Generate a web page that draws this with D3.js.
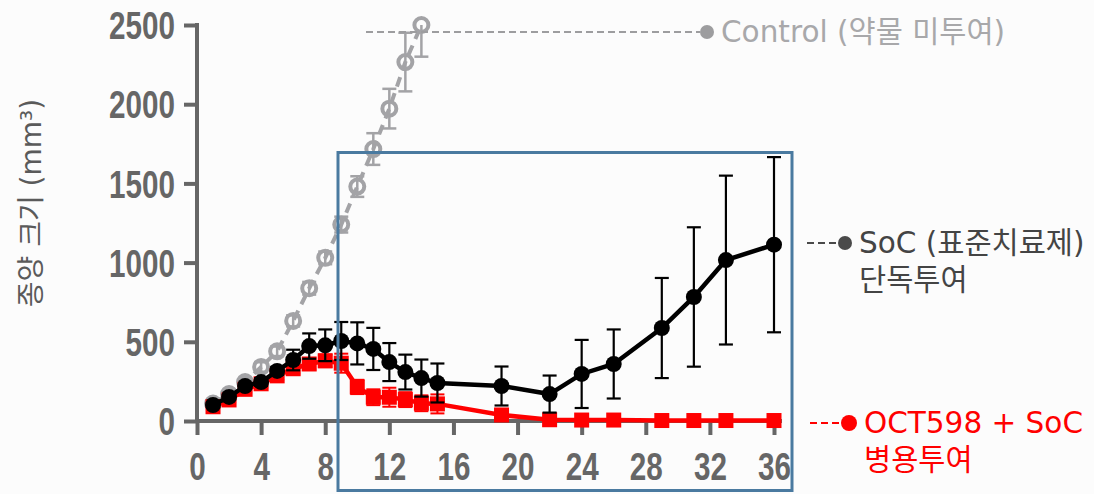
<!DOCTYPE html>
<html>
<head>
<meta charset="utf-8">
<script src="https://cdn.jsdelivr.net/npm/d3@7/dist/d3.min.js"></script>
<style>
  html, body { margin: 0; padding: 0; background: #fcfcfc; }
  svg { display: block; }
</style>
</head>
<body>
<svg id="chart" width="1094" height="494"></svg>
<script>
// Tumour volume over time (days) for three treatment groups
const xTicks = [0, 4, 8, 12, 16, 20, 24, 28, 32, 36];
const yTicks = [0, 500, 1000, 1500, 2000, 2500];

const controlDays = [1, 2, 3, 4, 5, 6, 7, 8, 9, 10, 11, 12, 13, 14];
const controlMean = [110, 170, 246, 341, 440, 632, 838, 1030, 1240, 1480, 1717, 1972, 2266, 2500];
const controlErr  = [15, 20, 25, 30, 30, 35, 40, 40, 50, 65, 100, 125, 185, 200];

const socDays = [1, 2, 3, 4, 5, 6, 7, 8, 9, 10, 11, 12, 13, 14, 15, 19, 22, 24, 26, 29, 31, 33, 36];
const socMean = [101, 152, 221, 246, 316, 385, 473, 478, 505, 490, 455, 372, 309, 271, 240, 221, 170, 297, 360, 587, 783, 1016, 1113];
const socErr  = [15, 20, 20, 25, 25, 65, 80, 100, 120, 133, 133, 120, 110, 117, 123, 123, 117, 215, 218, 316, 440, 533, 553];

const comboDays = [1, 2, 3, 4, 5, 6, 7, 8, 9, 10, 11, 12, 13, 14, 15, 19, 22, 24, 26, 29, 31, 33, 36];
const comboMean = [90, 133, 200, 235, 285, 330, 360, 380, 365, 215, 150, 150, 135, 112, 108, 38, 8, 6, 6, 3, 3, 3, 3];
const comboErr  = [10, 15, 20, 25, 25, 30, 35, 40, 60, 45, 50, 60, 47, 50, 60, 20, 8, 5, 5, 3, 3, 3, 3];

const seriesLabels = {
  control: ["Control (약물 미투여)"],
  soc: ["SoC (표준치료제)", "단독투여"],
  combo: ["OCT598 + SoC", "병용투여"]
};
const yTitle = "종양 크기 (mm³)";

const svg = d3.select("#chart");
const x = d3.scaleLinear().domain([0, 36]).range([197, 774]);
const y = d3.scaleLinear().domain([0, 2500]).range([421, 25]);

const AXIS = "#666666";
const GREY = "#a3a3a6";
const RED = "#ff0000";
const NUM_SCALE = 0.78;
const numFont = "'Liberation Sans', Arial, sans-serif";
const labelFont = "'DejaVu Sans', 'Noto Sans CJK KR', sans-serif";

// ---- axes ----
const yAxis = d3.axisLeft(y).tickValues(yTicks).tickSize(13).tickPadding(8).tickFormat(d3.format("d"));
const gy = svg.append("g").attr("transform", `translate(${x(0)},0)`).call(yAxis);
gy.select(".domain").remove();
gy.selectAll(".tick line").attr("stroke", AXIS).attr("stroke-width", 4);
gy.selectAll(".tick text")
  .attr("x", -22 / NUM_SCALE)
  .attr("transform", `scale(${NUM_SCALE},1)`)
  .attr("dy", "0.36em")
  .attr("fill", AXIS)
  .style("font-family", numFont).style("font-weight", "bold").style("font-size", "38px");

const xAxis = d3.axisBottom(x).tickValues(xTicks).tickSize(14).tickFormat(d3.format("d"));
const gx = svg.append("g").attr("transform", `translate(0,${y(0)})`).call(xAxis);
gx.select(".domain").remove();
gx.selectAll(".tick line").attr("stroke", AXIS).attr("stroke-width", 4);
gx.selectAll(".tick text")
  .attr("y", 59).attr("dy", 0)
  .attr("transform", `scale(${NUM_SCALE},1)`)
  .attr("fill", AXIS)
  .style("font-family", numFont).style("font-weight", "bold").style("font-size", "38px");

// axis lines
svg.append("line").attr("x1", x(0)).attr("x2", x(0)).attr("y1", y(2500) - 2).attr("y2", y(0) + 2)
  .attr("stroke", AXIS).attr("stroke-width", 4);
svg.append("line").attr("x1", x(0) - 2).attr("x2", x(36) + 8).attr("y1", y(0)).attr("y2", y(0))
  .attr("stroke", AXIS).attr("stroke-width", 4);

// y title
svg.append("text")
  .attr("transform", "translate(41,203) rotate(-90)")
  .attr("text-anchor", "middle")
  .attr("fill", "#5a5a5a")
  .style("font-family", labelFont).style("font-size", "28px")
  .text(yTitle);

// ---- helpers ----
function rows(days, mean, err) {
  return days.map((d, i) => ({ day: d, v: mean[i], e: err[i] }));
}
function errorBars(data, color, width) {
  const g = svg.append("g").attr("stroke", color).attr("stroke-width", width).attr("fill", "none");
  const top = y.domain()[1];
  data.forEach(p => {
    const hi = Math.min(p.v + p.e, top);
    const lo = Math.max(p.v - p.e, 0);
    const cx = x(p.day);
    g.append("line").attr("x1", cx).attr("x2", cx).attr("y1", y(hi)).attr("y2", y(lo));
    if (p.v + p.e <= top) g.append("line").attr("x1", cx - 7).attr("x2", cx + 7).attr("y1", y(hi)).attr("y2", y(hi));
    g.append("line").attr("x1", cx - 7).attr("x2", cx + 7).attr("y1", y(lo)).attr("y2", y(lo));
  });
}
const line = d3.line().x(d => x(d.day)).y(d => y(d.v));

// ---- control (dashed grey, hollow circles) ----
const ctrl = rows(controlDays, controlMean, controlErr);
errorBars(ctrl, GREY, 2.5);
svg.append("path").datum(ctrl).attr("d", line)
  .attr("fill", "none").attr("stroke", GREY).attr("stroke-width", 4).attr("stroke-dasharray", "10,7");
svg.append("g").selectAll("circle").data(ctrl).join("circle")
  .attr("cx", d => x(d.day)).attr("cy", d => y(d.v)).attr("r", 7)
  .attr("fill", "none").attr("stroke", GREY).attr("stroke-width", 4);

// ---- OCT598 + SoC (red squares) ----
const combo = rows(comboDays, comboMean, comboErr);
errorBars(combo, RED, 2);
svg.append("path").datum(combo).attr("d", line)
  .attr("fill", "none").attr("stroke", RED).attr("stroke-width", 4.5);
svg.append("g").selectAll("rect").data(combo).join("rect")
  .attr("x", d => x(d.day) - 7.5).attr("y", d => y(d.v) - 7.5)
  .attr("width", 15).attr("height", 15).attr("fill", RED);

// ---- SoC alone (black circles) ----
const soc = rows(socDays, socMean, socErr);
errorBars(soc, "#000", 2.2);
svg.append("path").datum(soc).attr("d", line)
  .attr("fill", "none").attr("stroke", "#000").attr("stroke-width", 4.5);
svg.append("g").selectAll("circle").data(soc).join("circle")
  .attr("cx", d => x(d.day)).attr("cy", d => y(d.v)).attr("r", 8).attr("fill", "#000");

// ---- highlighted treatment window ----
svg.append("rect")
  .attr("x", 338).attr("y", 152.5).attr("width", 454).attr("height", 338)
  .attr("fill", "none").attr("stroke", "#4a7aa0").attr("stroke-width", 3);

// ---- legend labels ----
function legend(x1, x2, ly, dotX, dotR, color, textColor, lines, size) {
  svg.append("line").attr("x1", x1).attr("x2", x2).attr("y1", ly).attr("y2", ly)
    .attr("stroke", color).attr("stroke-width", 2).attr("stroke-dasharray", "7,4");
  svg.append("circle").attr("cx", dotX).attr("cy", ly).attr("r", dotR).attr("fill", color);
  const t = svg.append("text").attr("fill", textColor)
    .style("font-family", labelFont).style("font-size", size + "px");
  lines.forEach((s, i) => {
    t.append("tspan").attr("x", dotX + dotR + 7).attr("y", ly + 10 + i * 37).text(s);
  });
}
legend(366, 700, 32, 707, 7, "#9d9d9f", "#a8a8aa", seriesLabels.control, 29.5);
legend(807, 838, 243, 845, 7, "#4a4a4a", "#444", seriesLabels.soc, 29.5);
legend(810, 842, 423, 849, 8, RED, RED, seriesLabels.combo, 29.5);
</script>
</body>
</html>
